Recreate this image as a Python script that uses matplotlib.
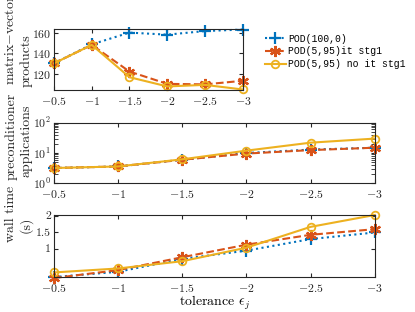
import matplotlib
matplotlib.use("Agg")
import matplotlib.pyplot as plt
from matplotlib.ticker import FuncFormatter
import numpy as np

plt.rcParams['font.family'] = 'serif'
plt.rcParams['font.serif'] = ['cmr10', 'DejaVu Serif']
plt.rcParams['mathtext.fontset'] = 'cm'
plt.rcParams['axes.formatter.use_mathtext'] = True
plt.rcParams['axes.unicode_minus'] = True

tol = [-0.5, -1, -1.5, -2, -2.5, -3]
labels = ['POD(100,0)', 'POD(5,95)it stg1', 'POD(5,95) no it stg1']

matvec_pod100 = [130, 148.5, 160, 158, 161.5, 163]
matvec_it = [130, 148, 122, 110, 109.5, 113]
matvec_noit = [130, 148, 116.5, 107.5, 109, 104.5]

prec_pod100 = [3.2, 3.6, 6.0, 10.0, 13.0, 15.0]
prec_it = [3.2, 3.6, 6.0, 9.6, 12.5, 15.0]
prec_noit = [3.2, 3.6, 6.2, 12.0, 22.0, 30.0]

wall_pod100 = [0.14, 0.30, 0.69, 0.94, 1.29, 1.49]
wall_it = [0.11, 0.35, 0.74, 1.12, 1.42, 1.59]
wall_noit = [0.28, 0.40, 0.62, 1.03, 1.66, 2.02]

ylabel_lines = [('matrix$-$vector', 'products'),
                ('preconditioner', 'applications'),
                ('wall time', '(s)')]

c_blue = '#0072BD'
c_orange = '#D95319'
c_yellow = '#EDB120'
ast = (6, 2, 0)

styles = [
    dict(color=c_blue, ls=':', marker='+', ms=8, mew=1.6, lw=1.5),
    dict(color=c_orange, ls='--', marker=ast, ms=8, mew=1.6, lw=1.5),
    dict(color=c_yellow, ls='-', marker='o', ms=5.5, mew=1.3, lw=1.5, mfc='none'),
]

def fmt(v, pos):
    s = '%g' % v
    if s.startswith('-'):
        return r'$-$' + s[1:]
    return s

W, H = 415, 312
fig = plt.figure(figsize=(W / 100, H / 100), dpi=100)
ax1 = fig.add_axes([0.130, 0.7115, 0.455, 0.1955])
ax2 = fig.add_axes([0.130, 0.4125, 0.773, 0.194])
ax3 = fig.add_axes([0.130, 0.112, 0.773, 0.2])

fs = 8.5
series = [
    (ax1, [matvec_pod100, matvec_it, matvec_noit]),
    (ax2, [prec_pod100, prec_it, prec_noit]),
    (ax3, [wall_pod100, wall_it, wall_noit]),
]
handles = []
for ax, data in series:
    for d, st, lab in zip(data, styles, labels):
        h, = ax.plot(tol, d, label=lab, clip_on=False, **st)
        if ax is ax1:
            handles.append(h)
    ax.set_xlim(-0.5, -3)
    ax.set_xticks(tol)
    ax.xaxis.set_major_formatter(FuncFormatter(fmt))
    ax.tick_params(direction='in', which='both', top=True, right=True,
                   labelsize=fs, colors='#262626', length=3)
    ax.tick_params(axis='y', pad=2)
    for sp in ax.spines.values():
        sp.set_color('#262626')
        sp.set_linewidth(0.8)

ax1.set_ylim(104, 163.5)
ax1.set_yticks([120, 140, 160])

ax2.set_yscale('log')
ax2.set_ylim(1, 100)

ax3.set_ylim(0.14, 2.03)
ax3.set_yticks([1, 1.5, 2])
ax3.set_yticklabels(['1', '1.5', '2'])
ax3.set_xlabel(r'tolerance $\epsilon_j$', fontsize=fs + 1.5, labelpad=0)

# y labels (two lines each, placed as in the reference)
label_pos = [((11, 40), (26, 61)), ((11, 136), (26, 141)), ((11, 214), (26, 225))]
for (l1, l2), ((x1, y1), (x2, y2)) in zip(ylabel_lines, label_pos):
    fig.text(x1 / W, 1 - y1 / H, l1, rotation=90, ha='center', va='center',
             fontsize=10, color='#262626')
    fig.text(x2 / W, 1 - y2 / H, l2, rotation=90, ha='center', va='center',
             fontsize=10, color='#262626')

leg = fig.legend(handles=handles, labels=labels, loc='upper left',
                 bbox_to_anchor=(0.628, 0.905), frameon=False,
                 prop={'family': 'Liberation Mono', 'size': 7},
                 handlelength=2.2, handletextpad=0.2, labelspacing=0.3,
                 borderaxespad=0)

fig.savefig('out.png', dpi=100)
